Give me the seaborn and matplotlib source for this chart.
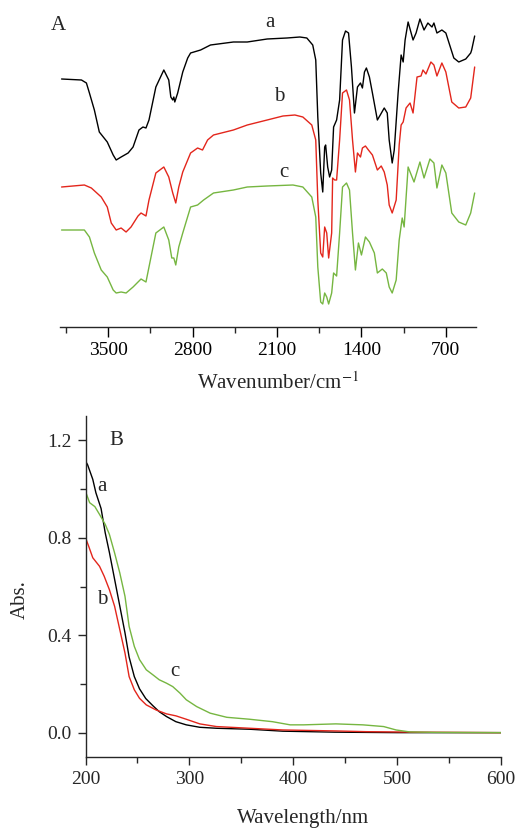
import matplotlib
matplotlib.use("Agg")
import matplotlib.pyplot as plt
import seaborn as sns
import numpy as np
from matplotlib.ticker import MultipleLocator, FormatStrFormatter

# ---------------- Panel A: FTIR spectra (wavenumber, transmittance a.u.) ----------------
wn_a = [3887, 3722, 3681, 3656, 3615, 3574, 3508, 3459, 3434, 3393, 3335, 3294, 3245, 3212,
        3187, 3162, 3105, 3039, 2998, 2981, 2965, 2956, 2948, 2924, 2882, 2841, 2817, 2734,
        2652, 2462, 2347, 2182, 2018, 1911, 1853, 1804, 1779, 1762, 1738, 1721, 1705, 1697,
        1680, 1664, 1647, 1631, 1606, 1581, 1557, 1532, 1507, 1483, 1458, 1433, 1408, 1392,
        1375, 1359, 1334, 1309, 1268, 1244, 1211, 1186, 1170, 1145, 1128, 1096, 1071, 1054,
        1038, 1013, 972, 947, 915, 881, 849, 815, 799, 774, 733, 700, 634, 593, 535, 494, 486, 461]
t_a = [251, 250, 247, 237, 220, 198, 188, 175, 170, 173, 177, 183, 200, 203,
       202, 210, 243, 260, 250, 233, 230, 233, 228, 237, 258, 272, 277, 280,
       285, 288, 288, 291, 292, 293, 292, 285, 270, 213, 157, 138, 183, 185,
       163, 153, 160, 203, 210, 230, 290, 299, 297, 263, 217, 243, 247, 242,
       258, 262, 253, 237, 210, 215, 222, 217, 190, 167, 180, 237, 275, 268,
       290, 308, 290, 297, 311, 300, 307, 303, 307, 297, 300, 297, 272, 268, 271, 277, 280, 294]

wn_b = [3887, 3698, 3640, 3558, 3508, 3475, 3434, 3393, 3352, 3311, 3253, 3228, 3187, 3162,
        3105, 3039, 2998, 2965, 2940, 2915, 2882, 2817, 2759, 2718, 2676, 2627, 2462, 2347,
        2182, 2051, 1952, 1886, 1812, 1779, 1762, 1738, 1721, 1705, 1688, 1672, 1647, 1639,
        1622, 1606, 1581, 1557, 1524, 1499, 1474, 1450, 1433, 1408, 1392, 1367, 1342, 1309,
        1268, 1236, 1211, 1186, 1170, 1145, 1112, 1087, 1071, 1054, 1030, 997, 972, 939,
        906, 890, 865, 824, 799, 774, 733, 700, 651, 593, 535, 494, 461]
t_b = [143, 145, 142, 133, 123, 107, 100, 102, 98, 103, 114, 117, 114, 130,
       157, 163, 153, 137, 127, 143, 158, 177, 182, 180, 190, 195, 200, 205,
       210, 214, 215, 213, 205, 190, 130, 77, 73, 103, 97, 72, 97, 152,
       150, 150, 190, 237, 240, 230, 190, 158, 177, 173, 182, 184, 180, 175,
       160, 164, 158, 145, 125, 117, 130, 185, 205, 208, 222, 227, 217, 253,
       254, 260, 256, 268, 265, 254, 267, 258, 228, 222, 223, 232, 263]

wn_c = [3887, 3698, 3656, 3615, 3558, 3508, 3459, 3434, 3393, 3352, 3294, 3228, 3187, 3162,
        3105, 3039, 2998, 2973, 2956, 2940, 2915, 2882, 2817, 2759, 2709, 2627, 2462, 2347,
        2182, 1968, 1886, 1812, 1779, 1762, 1738, 1721, 1705, 1688, 1672, 1647, 1631, 1606,
        1581, 1557, 1524, 1499, 1474, 1450, 1425, 1400, 1367, 1334, 1293, 1268, 1227, 1194,
        1170, 1145, 1112, 1087, 1062, 1046, 1013, 964, 915, 881, 832, 799, 774, 733,
        700, 651, 593, 535, 494, 461]
t_c = [100, 100, 93, 77, 60, 53, 40, 37, 38, 37, 43, 51, 48, 63,
       97, 103, 90, 72, 72, 65, 83, 97, 123, 125, 130, 137, 140, 143,
       144, 145, 143, 133, 113, 63, 28, 26, 37, 33, 26, 37, 57, 54,
       97, 143, 147, 140, 97, 60, 87, 75, 93, 88, 77, 57, 61, 57,
       43, 37, 50, 90, 112, 103, 163, 148, 168, 152, 171, 167, 142, 165,
       157, 117, 108, 105, 117, 137]

# ---------------- Panel B: UV-Vis spectra (wavelength nm, absorbance) ----------------
nm_a = [200, 202, 207, 210, 215, 219, 223, 228, 233, 238, 242, 247, 252, 258, 265, 271,
        278, 287, 297, 310, 326, 358, 390, 440, 500, 600]
abs_a = [1.115, 1.10, 1.04, 0.985, 0.92, 0.82, 0.74, 0.63, 0.52, 0.41, 0.31, 0.23, 0.18,
         0.14, 0.11, 0.086, 0.066, 0.045, 0.032, 0.022, 0.018, 0.014, 0.006, 0.002, 0.0, 0.0]

nm_b = [200, 203, 207, 213.5, 218, 223, 228, 233, 238, 242, 247, 252, 258.5, 268, 278,
        287, 297, 310, 326, 358, 390, 441, 470, 518, 600]
abs_b = [0.80, 0.766, 0.718, 0.683, 0.642, 0.587, 0.519, 0.423, 0.327, 0.23, 0.176, 0.141,
         0.114, 0.093, 0.077, 0.069, 0.055, 0.036, 0.025, 0.018, 0.011, 0.007, 0.004, 0.002, 0.0]

nm_c = [200, 204, 209, 213.5, 219, 223, 228, 233, 238, 242, 247, 252, 258.5, 265, 271, 278,
        284, 291, 297, 307, 320, 336, 358, 380, 397, 410, 441, 467, 487, 499, 512, 538, 600]
abs_c = [0.99, 0.944, 0.928, 0.896, 0.855, 0.814, 0.738, 0.656, 0.56, 0.436, 0.354, 0.30,
         0.258, 0.237, 0.217, 0.203, 0.189, 0.162, 0.135, 0.107, 0.08, 0.063, 0.055, 0.045,
         0.032, 0.032, 0.036, 0.032, 0.025, 0.011, 0.003, 0.001, 0.0]

xticks_a = [3500, 2800, 2100, 1400, 700]
yticks_b = [0.0, 0.4, 0.8, 1.2]
xticks_b = [200, 300, 400, 500, 600]

BLACK = "#000000"
RED = "#e3261c"
GREEN = "#76b641"

sns.set_style("ticks")
plt.rcParams["font.family"] = ["Liberation Serif", "DejaVu Serif"]
plt.rcParams["mathtext.fontset"] = "stix"

fig = plt.figure(figsize=(5.18, 8.30), dpi=100)

W, H = 518.0, 830.0
def box(l, t, r, b):
    return [l / W, 1 - b / H, (r - l) / W, (b - t) / H]

# ---- Panel A ----
axA = fig.add_axes(box(60, 10, 476, 327))
for wn, t, c in [(wn_a, t_a, BLACK), (wn_b, t_b, RED), (wn_c, t_c, GREEN)]:
    sns.lineplot(x=wn, y=t, ax=axA, color=c, lw=1.0, sort=False, estimator=None)
axA.set_xlim(3900, 450)
axA.set_ylim(3, 320)
for s in ["left", "right", "top"]:
    axA.spines[s].set_visible(False)
axA.spines["bottom"].set_linewidth(1.0)
axA.set_yticks([])
axA.set_xticks(xticks_a)
axA.xaxis.set_minor_locator(MultipleLocator(350))
axA.tick_params(axis="x", which="major", direction="out", length=7, width=1.0,
                labelsize=14, pad=4, colors="black")
axA.tick_params(axis="x", which="minor", direction="out", length=4, width=1.0)
axA.set_xlabel("Wavenumber/cm$^{-1}$", fontsize=15)
axA.xaxis.label.set_va("center")
axA.xaxis.set_label_coords((278 - 60) / 416, (327 - 383) / 317)
axA.text(3912, 305, "A", fontsize=15, ha="center", va="center", clip_on=False)
axA.text(2158, 308, "a", fontsize=15, ha="center", va="center")
axA.text(2084, 234, "b", fontsize=15, ha="center", va="center")
axA.text(2043, 158, "c", fontsize=15, ha="center", va="center")

# ---- Panel B ----
axB = fig.add_axes(box(85.5, 416, 501, 757))
for x, y, c in [(nm_a, abs_a, BLACK), (nm_b, abs_b, RED), (nm_c, abs_c, GREEN)]:
    sns.lineplot(x=x, y=y, ax=axB, color=c, lw=1.0, sort=False, estimator=None)
axB.set_xlim(200, 600)
axB.set_ylim(-0.1, 1.3)
for s in ["right", "top"]:
    axB.spines[s].set_visible(False)
for s in ["left", "bottom"]:
    axB.spines[s].set_linewidth(1.0)
axB.set_xticks(xticks_b)
axB.set_yticks(yticks_b)
axB.xaxis.set_minor_locator(MultipleLocator(50))
axB.yaxis.set_minor_locator(MultipleLocator(0.2))
axB.yaxis.set_major_formatter(FormatStrFormatter("%.1f"))
axB.tick_params(which="major", direction="out", length=6, width=1.0, labelsize=14, pad=4)
axB.tick_params(which="minor", direction="out", length=4, width=1.0)
axB.set_xlabel("Wavelength/nm", fontsize=15)
axB.xaxis.label.set_va("center")
axB.xaxis.set_label_coords((303 - 85.5) / 415.5, (757 - 818) / 341)
axB.set_ylabel("Abs.", fontsize=15)
axB.yaxis.label.set_va("center")
axB.yaxis.set_label_coords((20 - 85.5) / 415.5, (757 - 600) / 341)
axB.text(230, 1.2, "B", fontsize=15, ha="center", va="center")
axB.text(216, 1.01, "a", fontsize=15, ha="center", va="center")
axB.text(216, 0.546, "b", fontsize=15, ha="center", va="center")
axB.text(286.5, 0.25, "c", fontsize=15, ha="center", va="center")

fig.savefig("out.png", dpi=100)
